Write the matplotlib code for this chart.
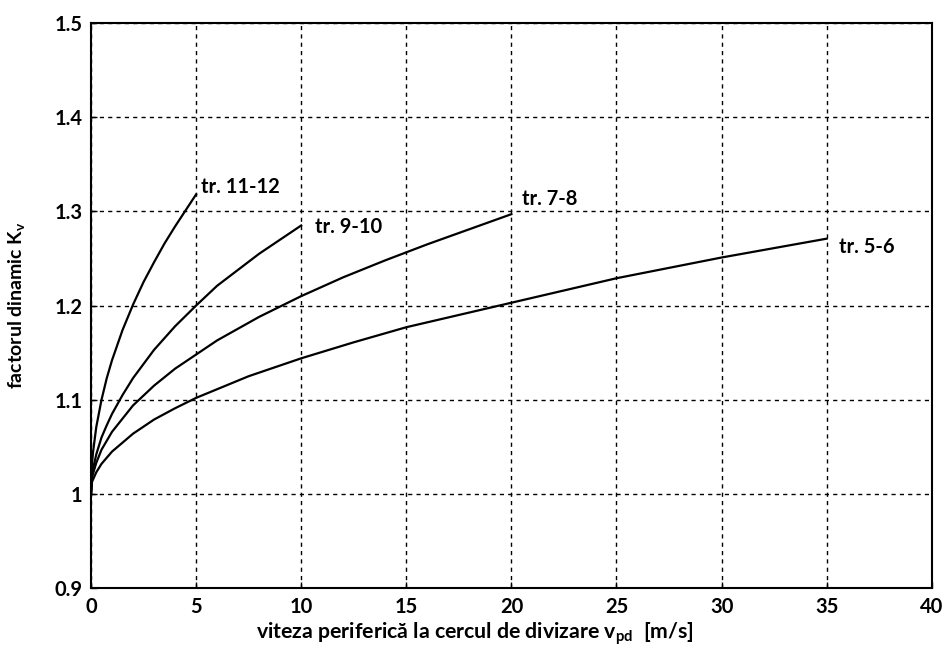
import numpy as np
import matplotlib
matplotlib.use("Agg")
import matplotlib.pyplot as plt

plt.rcParams["font.family"] = ["Lato", "DejaVu Sans"]
plt.rcParams["mathtext.default"] = "regular"

# curves: viteza [m/s] -> factor dinamic Kv
x_11_12 = [0, 0.05, 0.1, 0.25, 0.5, 0.75, 1, 1.5, 2, 2.5, 3, 3.5, 4, 4.5, 5]
k_11_12 = [1.0, 1.033, 1.045, 1.071, 1.10, 1.123, 1.142, 1.174, 1.201, 1.225, 1.246, 1.266, 1.284,
           1.301, 1.318]

x_9_10 = [0, 0.05, 0.25, 0.5, 0.75, 1, 1.5, 2, 3, 4, 5, 6, 7, 8, 9, 10]
k_9_10 = [1.0, 1.022, 1.042, 1.06, 1.073, 1.085, 1.105, 1.123, 1.153, 1.178, 1.20, 1.221, 1.238,
          1.255, 1.27, 1.285]

x_7_8 = [0, 0.05, 0.25, 0.5, 1, 2, 3, 4, 5, 6, 8, 10, 12, 14, 16, 18, 20]
k_7_8 = [1.0, 1.018, 1.033, 1.047, 1.066, 1.094, 1.115, 1.133, 1.148, 1.163, 1.188, 1.21, 1.23, 1.248,
         1.265, 1.281, 1.297]

x_5_6 = [0, 0.05, 0.25, 0.5, 1, 2, 3, 4, 5, 7.5, 10, 12.5, 15, 17.5, 20, 22.5, 25, 27.5, 30, 32.5, 35]
k_5_6 = [1.0, 1.013, 1.023, 1.032, 1.045, 1.064, 1.079, 1.091, 1.102, 1.125, 1.144, 1.161, 1.177, 1.19,
         1.203, 1.216, 1.229, 1.24, 1.251, 1.261, 1.271]

labels = ["tr. 11-12", "tr. 9-10", "tr. 7-8", "tr. 5-6"]
label_pos = [(5.25, 1.326), (10.65, 1.283), (20.5, 1.313), (35.6, 1.262)]

xticks = [0, 5, 10, 15, 20, 25, 30, 35, 40]
yticks = [0.9, 1.0, 1.1, 1.2, 1.3, 1.4, 1.5]
ytick_labels = ["0.9", "1", "1.1", "1.2", "1.3", "1.4", "1.5"]

fig = plt.figure(figsize=(9.45, 6.55), dpi=100)
ax = fig.add_axes([0.0963, 0.102, 0.8897, 0.863])

for xs, ks in [(x_11_12, k_11_12), (x_9_10, k_9_10), (x_7_8, k_7_8), (x_5_6, k_5_6)]:
    ax.plot(xs, ks, color="black", lw=1.6, zorder=3)

for text, (px, py) in zip(labels, label_pos):
    ax.text(px, py, text, fontsize=14.5, fontweight="bold", va="center", ha="left")

ax.set_xlim(0, 40)
ax.set_ylim(0.9, 1.5)
ax.set_xticks(xticks)
ax.set_yticks(yticks)
ax.set_yticklabels(ytick_labels)
ax.tick_params(direction="in", length=4, width=1, labelsize=14.5, pad=6)
for lbl in ax.get_xticklabels() + ax.get_yticklabels():
    lbl.set_fontweight("bold")

ax.grid(True, color="black", linestyle=(0, (3, 3)), linewidth=1.0)
for sp in ax.spines.values():
    sp.set_linewidth(1.5)

ax.set_xlabel("viteza periferică la cercul de divizare v$_{pd}$  [m/s]", fontsize=15.3,
              fontweight="bold")
ax.xaxis.set_label_coords(0.457, -0.058, transform=ax.transAxes)
ax.set_ylabel("factorul dinamic K$_{v}$", fontsize=14, fontweight="bold")
ax.yaxis.set_label_coords(-0.076, 0.5, transform=ax.transAxes)

fig.savefig("out.png", dpi=100)
